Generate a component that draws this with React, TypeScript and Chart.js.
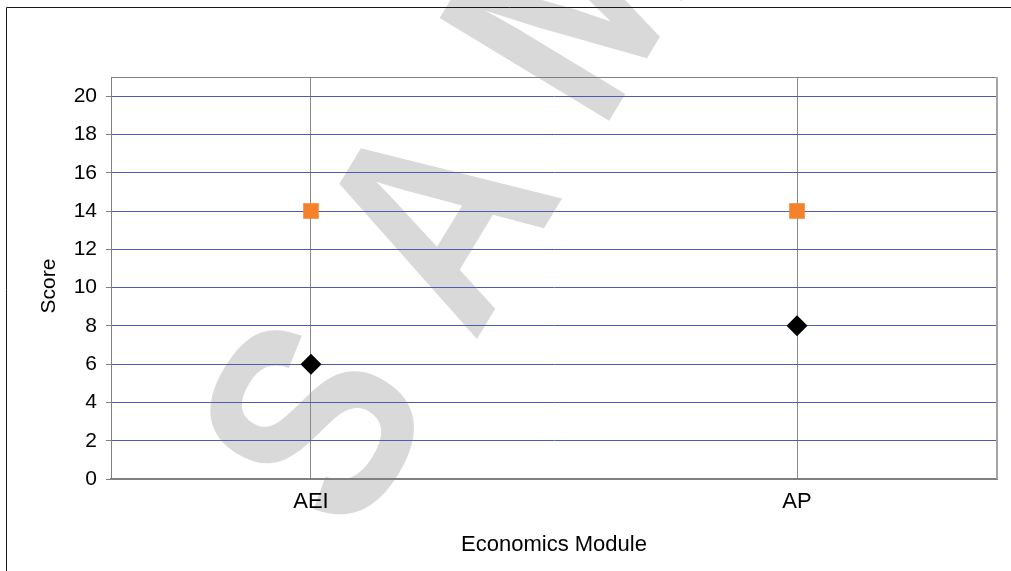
import React, { useEffect, useRef } from 'react';
import { Chart, registerables } from 'chart.js';

Chart.register(...registerables);

// Modules on the horizontal axis
const categories: string[] = ['AEI', 'AP'];
// Orange squares: target score per module
const targetScores: number[] = [14, 14];
// Black diamonds: achieved score per module
const achievedScores: number[] = [6, 8];
// Labelled score gridlines
const scoreTicks: number[] = [0, 2, 4, 6, 8, 10, 12, 14, 16, 18, 20];
const scoreMax = 21;

const WIDTH = 1011;
const HEIGHT = 571;
const FONT = '"Liberation Sans", Arial, Helvetica, sans-serif';

// Side margin of the category axis, in category units
const CATEGORY_MARGIN = 0.4115;

const toPoints = (values: number[]) => values.map((y, i) => ({ x: i + 1, y }));

const backdropPlugin = {
  id: 'backdrop',
  beforeDraw(chart: Chart) {
    const { ctx } = chart;
    // "SAMPLE" watermark, running diagonally up to the right
    ctx.save();
    ctx.fillStyle = '#d9d9d9';
    ctx.font = `bold 288px ${FONT}`;
    ctx.textBaseline = 'alphabetic';
    ctx.textAlign = 'left';
    ctx.translate(354, 542);
    ctx.rotate((-58.8 * Math.PI) / 180);
    ctx.scale(0.85, 1);
    ctx.fillText('S A M P L E', 0, 0);
    ctx.restore();

    // outer frame
    ctx.save();
    ctx.strokeStyle = '#1a1a1a';
    ctx.lineWidth = 1;
    ctx.beginPath();
    ctx.moveTo(6.5, HEIGHT + 2);
    ctx.lineTo(6.5, 7.5);
    ctx.lineTo(WIDTH + 2, 7.5);
    ctx.stroke();
    ctx.restore();
  },
  beforeDatasetsDraw(chart: Chart) {
    const { ctx, chartArea } = chart;
    ctx.save();
    ctx.strokeStyle = '#808080';
    ctx.lineWidth = 1;
    ctx.beginPath();
    ctx.moveTo(chartArea.left, chartArea.top + 0.5);
    ctx.lineTo(chartArea.right, chartArea.top + 0.5);
    ctx.stroke();
    ctx.strokeStyle = '#a6a6a6';
    ctx.lineWidth = 2;
    ctx.beginPath();
    ctx.moveTo(chartArea.right, chartArea.top);
    ctx.lineTo(chartArea.right, chartArea.bottom);
    ctx.stroke();
    ctx.restore();
  },
  afterDraw(chart: Chart) {
    // vertical axis title
    const { ctx } = chart;
    ctx.save();
    ctx.fillStyle = '#000';
    ctx.font = `21px ${FONT}`;
    ctx.textAlign = 'center';
    ctx.textBaseline = 'middle';
    ctx.translate(49, 286);
    ctx.rotate(-Math.PI / 2);
    ctx.fillText('Score', 0, 0);
    ctx.restore();
  },
};

export default function App() {
  const canvasRef = useRef<HTMLCanvasElement | null>(null);

  useEffect(() => {
    if (!canvasRef.current) return;
    const chart = new Chart(canvasRef.current, {
      type: 'scatter',
      data: {
        datasets: [
          {
            label: 'Target',
            data: toPoints(targetScores),
            pointStyle: 'rect',
            pointRadius: 11,
            pointBackgroundColor: '#f5812a',
            pointBorderColor: '#f5812a',
            pointBorderWidth: 0,
            showLine: false,
          },
          {
            label: 'Score',
            data: toPoints(achievedScores),
            pointStyle: 'rectRot',
            pointRadius: 10.5,
            pointBackgroundColor: '#000000',
            pointBorderColor: '#000000',
            pointBorderWidth: 0,
            showLine: false,
          },
        ],
      },
      options: {
        responsive: false,
        animation: false,
        devicePixelRatio: 1,
        layout: { padding: { top: 77, right: 14, bottom: 0, left: 0 } },
        plugins: {
          legend: { display: false },
          tooltip: { enabled: false },
        },
        scales: {
          x: {
            type: 'linear',
            min: 1 - CATEGORY_MARGIN,
            max: categories.length + CATEGORY_MARGIN,
            afterBuildTicks: (scale: any) => {
              scale.ticks = categories.map((_, i) => ({ value: i + 1 }));
            },
            afterFit: (scale: any) => {
              scale.height = 92;
            },
            ticks: {
              autoSkip: false,
              maxRotation: 0,
              padding: 10,
              color: '#000',
              font: { family: FONT, size: 22 },
              callback: (v: any) => categories[Number(v) - 1] ?? '',
            },
            grid: {
              color: '#8a8a8a',
              lineWidth: 1,
              drawTicks: false,
            },
            border: { display: true, color: '#808080', width: 2 },
            title: {
              display: true,
              text: 'Economics Module',
              color: '#000',
              font: { family: FONT, size: 22 },
              padding: { top: 0, bottom: 13 },
            },
          },
          y: {
            min: 0,
            max: scoreMax,
            afterBuildTicks: (scale: any) => {
              scale.ticks = scoreTicks.map((value) => ({ value }));
            },
            afterFit: (scale: any) => {
              scale.width = 111;
            },
            ticks: {
              padding: 9,
              color: '#000',
              font: { family: FONT, size: 21 },
            },
            grid: {
              color: '#4a5eab',
              lineWidth: 1,
              tickLength: 5,
              tickColor: '#808080',
            },
            border: { display: true, color: '#808080', width: 1 },
          },
        },
      },
      plugins: [backdropPlugin],
    });
    return () => chart.destroy();
  }, []);

  return (
    <div style={{ position: 'absolute', left: 0, top: 0, width: WIDTH, height: HEIGHT, background: '#fff' }}>
      <canvas ref={canvasRef} width={WIDTH} height={HEIGHT} style={{ display: 'block' }} />
    </div>
  );
}
